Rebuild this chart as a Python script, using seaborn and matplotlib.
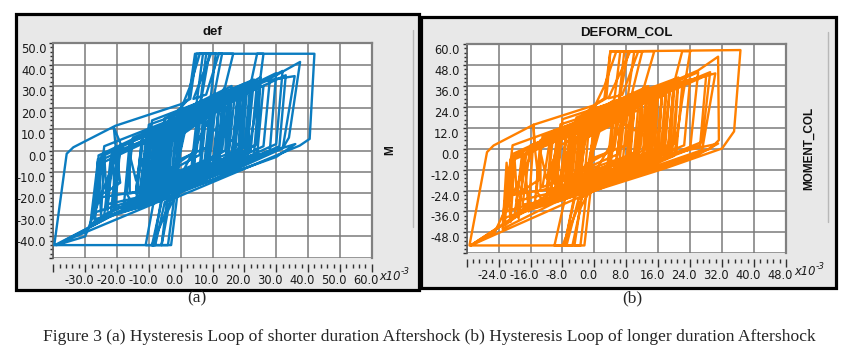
import matplotlib
matplotlib.use("Agg")
import matplotlib.pyplot as plt
import matplotlib.transforms as mtransforms
from matplotlib.patches import Rectangle
from matplotlib.ticker import AutoMinorLocator
import seaborn as sns
import pandas as pd

# turning points (deformation x1e-3, moment)
def_core = [(0, 0), (1.5, 10), (6, 13), (5, 0), (-2, -7), (-4, -12), (-3, 4), (3, 10),
            (7, 15), (6, -2), (-4, -10), (-7, -16), (-5, 6), (5, 13), (10, 19), (9, -4),
            (-3, -12), (-9, -19), (-7, 6), (2, 14), (12, 21), (11, -5), (0, -13), (-11, -20)]
def_cap = [(-8, 7), (0, 20), (2.5, 24), (4.5, 45), (11, 45), (9, 19), (14, 23), (12, -6),
           (-2, -15), (-6, -22), (-8.5, -44), (-11, -44), (-8, -20), (-2, -12),
           (1, 18), (5, 22), (7, 45), (9, 45), (6, 20), (16, 27), (15, -3), (3, -11),
           (-12, -22), (-9, 5), (8, 18), (18, 29), (17, -4), (4, -12), (-10, -21)]
def_left = [(-13, -23), (-20, -27), (-24, -30), (-22, -4), (-18, 0), (-21, 10.8), (-20.5, 3), (-19, -15),
            (-23, -19), (-26, -21), (-25.8, -2.3), (-14, 6), (-4, 12), (-6, -18), (-24, -30), (-28.4, -34.6),
            (-26, -5), (-12, 4), (6, 15), (10, 22), (8, -8), (-8, -20), (-27.4, -29), (-25, -3), (-10, 8)]
def_outer = [(10, 20), (22, 31), (24, 45), (26, 45), (24, 22), (21, -3), (8, -13), (-4, -20),
             (-6, -44), (-3, -44), (-1, -20), (4, -8), (6, 20), (8, 45), (42, 45), (40.5, 5.4),
             (37.4, 2.3), (20, -8.5), (0, -21), (-5, -24), (-8, -44), (-39.7, -44), (-35.8, -1.5),
             (-33.7, 1.5), (-20.5, 11.5), (0, 21.5), (3, 24), (5, 45), (13, 45), (10, 22), (30, 35),
             (37.5, 41.2), (34, 6), (32, 1), (14, -11), (-4, -22), (-39.5, -44), (-9.5, -21), (-2, -16)]
def_decay = [(2, 18), (20, 31), (35.8, 34.6), (32.1, 1.5), (16, -9), (-6, -20), (-4, 8), (14, 23),
             (32, 37), (30, 3), (12, -9), (-8, -19), (-6, 10), (10, 21), (25, 31), (24, 3), (10, -8),
             (-3, -16), (-1, 9), (18, 25), (22, 28), (21, -1), (8, -10), (-5, -17), (-3, 7), (13, 21),
             (20, 25), (19, 0), (5, -10), (-7, -18), (-9, -22), (-6, 5), (15, 23), (14, 0), (0, -12),
             (-2, -14), (-12, -20), (-10, 4), (5, 14), (13, 19), (12, -2), (-3, -11), (-14, -18),
             (-12, 6), (3, 14), (10, 16), (9, 2), (0, -4)]
def_dense = [(-12, -22), (-10, 6), (14, 24), (12, -5), (-8, -19), (-6, 12), (20, 28), (18, -3),
             (-14, -24), (-12, 3), (10, 22), (8, -8), (-6, -18), (-4, 10), (24, 32), (22, 0),
             (-10, -20), (-8, 9), (6, 18), (4, -10), (-4, -16), (-2, 14), (18, 27), (16, -2),
             (-13, -23), (-11, 4), (22, 30), (20, -4), (-9, -22), (-7, 8), (12, 22), (10, -9),
             (-5, -19), (-3, 16), (16, 30), (14, -6), (-11, -18), (-9, 10), (19, 29), (17, -1),
             (-7, -21), (-5, 5), (9, 16), (7, -12), (-3, -14), (-1, 18), (23, 33), (21, 2),
             (-12, -17), (-10, 12), (17, 26), (15, -3), (-8, -23), (-6, 2), (13, 20), (11, -11),
             (-2, -17), (0, 17), (21, 31), (19, -4), (-14, -20), (-12, 8), (8, 19), (6, -7),
             (-6, -15), (-4, 12), (15, 25), (13, 0), (-10, -22), (-8, 6), (25, 34), (23, -2),
             (-1, -13), (1, 15), (11, 21), (9, -6), (-9, -16), (-7, 11), (18, 26), (16, -5),
             (-13, -22), (-11, 1), (5, 14), (3, -13), (-5, -20), (-3, 9), (20, 27), (18, -7),
             (-11, -19), (-9, 14), (14, 27), (12, -2), (-7, -17), (-5, 15), (22, 32), (20, 1),
             (0, 19), (3, 30), (6, 45), (9.5, 45), (4, 24), (8, 26), (12, 45), (16.5, 45),
             (14, 30), (-2, -18), (-5, -30), (-9, -44), (-6, -44), (-4, -28), (0, -16)]
def_wide = [(-26, -22), (-24, 2), (0, 16), (28, 33), (26, 2), (0, -16), (-22, -30), (-20, -2),
            (5, 18), (30, 36), (28, 0), (2, -15), (-18, -28), (-16, 4), (10, 22), (26, 30),
            (24, -2), (-4, -22), (-27, -33), (-25, -6), (-8, 6), (20, 26), (33, 35), (31, 2),
            (10, -12), (-15, -25), (-17, -20), (-15, 6), (15, 24), (19, 28), (18, -6), (-10, -24),
            (-21, -27), (-19, 2), (-2, 12), (12, 20), (10, -10), (-14, -22), (-23, -25), (-21, -1),
            (-6, 8), (8, 17), (6, -13), (-16, -20), (-16, -2), (-14, -14), (-12, -4), (-10, -18),
            (-8, -2), (-6, -24), (-9, -44), (-4, -44), (-2, -22), (4, -14), (25, -2), (36, 3),
            (30, -3), (0, -19), (-12, -26), (-27, -32), (-26, -4), (-25, -30), (-24, -2), (-23, -28),
            (-21.5, 0), (-20.5, -26), (-19, 2), (-30, -40), (-39, -44), (-20, -29), (-10, -24)]

# turning points
col_core = [(0, 0), (1.5, 12), (6, 16), (5, 0), (-2, -9), (-4, -15), (-3, 5), (3, 12),
            (7, 18), (6, -3), (-4, -13), (-7, -20), (-5, 8), (5, 17), (10, 24), (9, -5),
            (-3, -15), (-9, -24), (-7, 8), (2, 18), (12, 27), (11, -6), (0, -16), (-11, -25)]
col_cap = [(-8, 9), (0, 25), (2.5, 29), (4, 56), (10, 56), (8, 24), (14, 30), (12, -7),
           (-2, -19), (-5, -27), (-7.5, -55.5), (-10, -55.5), (-7, -25), (-2, -15),
           (1, 22), (5, 28), (6.5, 56), (8.5, 56), (6, 25), (15, 34), (14, -4), (3, -14),
           (-12, -27), (-9, 7), (8, 23), (17, 36), (16, -5), (4, -15), (-10, -26)]
col_left = [(-12, -29), (-17, -33), (-20, -38), (-18, -5), (-15, 0), (-15.25, 13.8), (-15, 2), (-14, -18),
            (-18, -24), (-21, -27), (-20.5, -3), (-10, 8), (-2, 15), (-5, -22), (-19, -38), (-22.5, -44),
            (-21, -6), (-9, 5), (6, 19), (10, 28), (8, -10), (-7, -25), (-22, -36), (-20, -4), (-8, 10)]
col_outer = [(10, 26), (20, 38), (22, 56), (24, 56), (22, 28), (20, -4), (8, -16), (-3, -25),
             (-5, -55.5), (-2.5, -55.5), (-1, -25), (4, -10), (6, 25), (7.5, 56), (36.6, 56.7), (35, 10),
             (32, 0.2), (18, -11), (0, -24), (-4, -29), (-7, -55.5), (-31.3, -55.5), (-26.9, -1.9),
             (-25.25, 1.9), (-15.25, 13.8), (0, 25), (3, 29), (4, 56), (12, 56), (9, 28), (26, 45),
             (31, 52.9), (31.2, 5), (29, 0), (12, -13), (-3, -27), (-31, -55.5), (-8.2, -21), (-2, -18)]
col_decay = [(2, 22), (18, 36), (30.3, 43.3), (27, -0.7), (14, -11), (-5, -24), (-3, 10), (12, 28),
             (29, 44), (27, 4), (11, -11), (-7, -23), (-5, 12), (9, 26), (21, 37), (20, 3), (9, -10),
             (-2, -20), (0, 11), (16, 31), (20, 35), (19, -1), (7, -12), (-4, -21), (-2, 9), (12, 26),
             (18, 31), (17, 0), (5, -12), (-6, -22), (-8, -27), (-5, 6), (14, 29), (13, 0), (0, -15),
             (-2, -17), (-11, -25), (-9, 5), (5, 17), (12, 23), (11, -2), (-3, -13), (-13, -22),
             (-11, 7), (3, 17), (9, 20), (8, 2), (0, -5)]
col_dense = [(-10, -26), (-8.5, 7), (12, 28), (10.5, -6), (-7, -23), (-5.5, 14), (17, 33), (15.5, -4),
             (-12, -29), (-10.5, 4), (8.5, 26), (7, -10), (-5, -22), (-3.5, 12), (20, 38), (18.5, 0),
             (-8.5, -24), (-7, 11), (5, 21), (3.5, -12), (-3.5, -19), (-2, 17), (15, 32), (13.5, -2),
             (-11, -28), (-9.5, 5), (19, 36), (17.5, -5), (-7.5, -26), (-6, 10), (10, 26), (8.5, -11),
             (-4, -23), (-2.5, 19), (13.5, 36), (12, -7), (-9.5, -22), (-8, 12), (16, 35), (14.5, -1),
             (-6, -25), (-4.5, 6), (7.5, 19), (6, -14), (-2.5, -17), (-1, 22), (20, 40), (18.5, 2),
             (-10, -20), (-8.5, 14), (14.5, 31), (13, -4), (-7, -28), (-5.5, 3), (11, 24), (9.5, -13),
             (-1.5, -20), (0, 20), (18, 37), (16.5, -5), (-12, -24), (-10.5, 10), (7, 23), (5.5, -8),
             (-5, -18), (-3.5, 14), (13, 30), (11.5, 0), (-8.5, -26), (-7, 7), (21, 41), (19.5, -2),
             (-1, -16), (0.5, 18), (9.5, 25), (8, -7), (-7.5, -19), (-6, 13), (15.5, 31), (14, -6),
             (-11, -26), (-9.5, 1), (4.5, 17), (3, -16), (-4, -24), (-2.5, 11), (17, 32), (15.5, -8),
             (-9.5, -23), (-8, 17), (12, 32), (10.5, -2), (-6, -20), (-4.5, 18), (19, 38), (17.5, 1),
             (0, 24), (2.5, 36), (5.5, 56), (9, 56), (3.5, 29), (7, 31), (11, 56), (15, 56),
             (12.5, 36), (-2, -22), (-4.5, -36), (-8, -55.5), (-5.5, -55.5), (-3.5, -34), (0, -19)]
col_wide = [(-22, -27), (-20.5, 2), (0, 19), (24, 40), (22.5, 2), (0, -19), (-19, -36), (-17, -2),
            (4, 22), (26, 44), (24, 0), (2, -18), (-15, -34), (-13.5, 5), (8.5, 27), (22, 36),
            (20.5, -2), (-3.5, -26), (-23, -40), (-21, -7), (-7, 7), (17, 31), (28, 42), (26.5, 2),
            (8.5, -14), (-13, -30), (-14.5, -24), (-13, 7), (13, 29), (16, 34), (15, -7), (-8.5, -29),
            (-18, -32), (-16, 2), (-2, 14), (10, 24), (8.5, -12), (-12, -26), (-19.5, -30), (-18, -1),
            (-5, 10), (7, 20), (5, -16), (-13.5, -24), (-13.5, -2), (-12, -17), (-10, -5), (-8.5, -22),
            (-7, -2), (-5, -29), (-7.5, -55.5), (-3.5, -55.5), (-2, -26), (3.5, -17), (21, -2), (31, 3),
            (25.5, -4), (0, -23), (-10, -31), (-23, -46), (-22, -8), (-21, -42), (-20, -6), (-19, -40),
            (-17.5, -4), (-16.5, -36), (-15.5, -2), (-25, -48), (-31, -55.5), (-17, -35), (-8.5, -29)]

def_xticks = [-40, -30, -20, -10, 0, 10, 20, 30, 40, 50, 60]
def_yticks = [-50, -40, -30, -20, -10, 0, 10, 20, 30, 40, 50]
col_xticks = [-32, -24, -16, -8, 0, 8, 16, 24, 32, 40, 48]
col_yticks = [-60, -48, -36, -24, -12, 0, 12, 24, 36, 48, 60]

sns.set_style("white")
plt.rcParams['axes.unicode_minus'] = False
plt.rcParams['font.family'] = ['DejaVu Sans']

fig = plt.figure(figsize=(8.53, 3.62), dpi=100)


def frame(rect, line_x, line_y):
    box = Rectangle(rect[:2], rect[2], rect[3], transform=fig.transFigure,
                    facecolor='#e8e8e8', edgecolor='black', lw=2.3, zorder=0)
    fig.add_artist(box)
    fig.add_artist(plt.Line2D([line_x, line_x], line_y, transform=fig.transFigure,
                              color='#b8b8b8', lw=1.0))


def draw_panel(ax, pts, color, xticks, yticks, title, ylabel, label_x):
    df = pd.DataFrame(pts, columns=["deform", "moment"])
    sns.lineplot(data=df, x="deform", y="moment", sort=False, estimator=None,
                 color=color, lw=1.7, ax=ax, zorder=3)
    ax.set_xlim(xticks[0], xticks[-1])
    ax.set_ylim(yticks[0], yticks[-1])
    ax.set_xticks(xticks)
    ax.set_yticks(yticks)
    ax.set_xticklabels([''] + ['%.1f' % v for v in xticks[1:]])
    ax.set_yticklabels([''] + ['%.1f' % v for v in yticks[1:]])
    ax.xaxis.set_minor_locator(AutoMinorLocator(5))
    ax.yaxis.set_minor_locator(AutoMinorLocator(5))
    ax.grid(True, which='major', color='#7a7a7a', lw=1.1)
    ax.set_axisbelow(True)
    ax.set_facecolor('white')
    ax.spines['bottom'].set_position(('outward', 4))
    ax.spines['bottom'].set_visible(False)
    for s in ['top', 'right']:
        ax.spines[s].set_color('#808080')
        ax.spines[s].set_linewidth(1.6)
    ax.spines['left'].set_color('#606060')
    ax.spines['left'].set_linewidth(1.2)
    ax.tick_params(axis='both', which='major', labelsize=8.3, labelcolor='#1a1a1a',
                   color='#303030', direction='out')
    ax.tick_params(axis='x', which='major', length=6, width=1.0, pad=1.5, bottom=True)
    ax.tick_params(axis='x', which='minor', length=3, width=1.0, bottom=True, color='#303030')
    ax.tick_params(axis='y', which='major', length=3, width=1.0, pad=2, left=True)
    ax.tick_params(axis='y', which='minor', length=2, width=1.0, left=True, color='#303030')
    ax.set_xlabel('')
    ax.yaxis.set_label_position('right')
    ax.set_ylabel(ylabel, family='Liberation Sans', fontweight='bold', fontsize=8.5,
                  rotation=90, color='#111111')
    ax.yaxis.set_label_coords(label_x, 0.5)
    ax.set_title(title, family='Liberation Sans', fontweight='bold', fontsize=9.5,
                 color='#111111', pad=6)
    dy = mtransforms.ScaledTranslation(0, -0.05, fig.dpi_scale_trans)
    for t in ax.yaxis.get_major_ticks():
        t.label1.set_transform(t.label1.get_transform() + dy)
    dx = mtransforms.ScaledTranslation(-0.06, 0, fig.dpi_scale_trans)
    for t in ax.xaxis.get_major_ticks():
        t.label1.set_transform(t.label1.get_transform() + dx)
    ax.text(1.025, -0.085, 'x10', transform=ax.transAxes, fontsize=8.3,
            style='italic', color='#1a1a1a', va='center', ha='left')
    ax.text(1.092, -0.062, '-3', transform=ax.transAxes, fontsize=6.5,
            style='italic', color='#1a1a1a', va='center', ha='left')


frame((0.0188, 0.199, 0.4725, 0.7624), 0.4842, [0.373, 0.917])
frame((0.4936, 0.2044, 0.4865, 0.7486), 0.9707, [0.387, 0.912])

ax1 = fig.add_axes([0.0625, 0.2873, 0.3733, 0.5939])
ax2 = fig.add_axes([0.5471, 0.3003, 0.3743, 0.5773])

def_path = def_core + def_cap + def_left + def_outer + def_decay + def_dense + def_wide
col_path = col_core + col_cap + col_left + col_outer + col_decay + col_dense + col_wide

draw_panel(ax1, def_path, '#0b7cc0', def_xticks, def_yticks, 'def', 'M', 1.04)
draw_panel(ax2, col_path, '#ff8000', col_xticks, col_yticks, 'DEFORM_COL', 'MOMENT_COL', 1.055)

fig.text(197 / 853, 1 - 298 / 362, '(a)', family='Liberation Serif', fontsize=12.5,
         ha='center', va='center')
fig.text(632 / 853, 1 - 298 / 362, '(b)', family='Liberation Serif', fontsize=12.5,
         ha='center', va='center')
fig.text(429 / 853, 1 - 337 / 362,
         'Figure 3 (a) Hysteresis Loop of shorter duration Aftershock '
         '(b) Hysteresis Loop of longer duration Aftershock',
         family='Liberation Serif', fontsize=12.6, ha='center', va='center')

fig.savefig('out.png', dpi=100, facecolor='white')
